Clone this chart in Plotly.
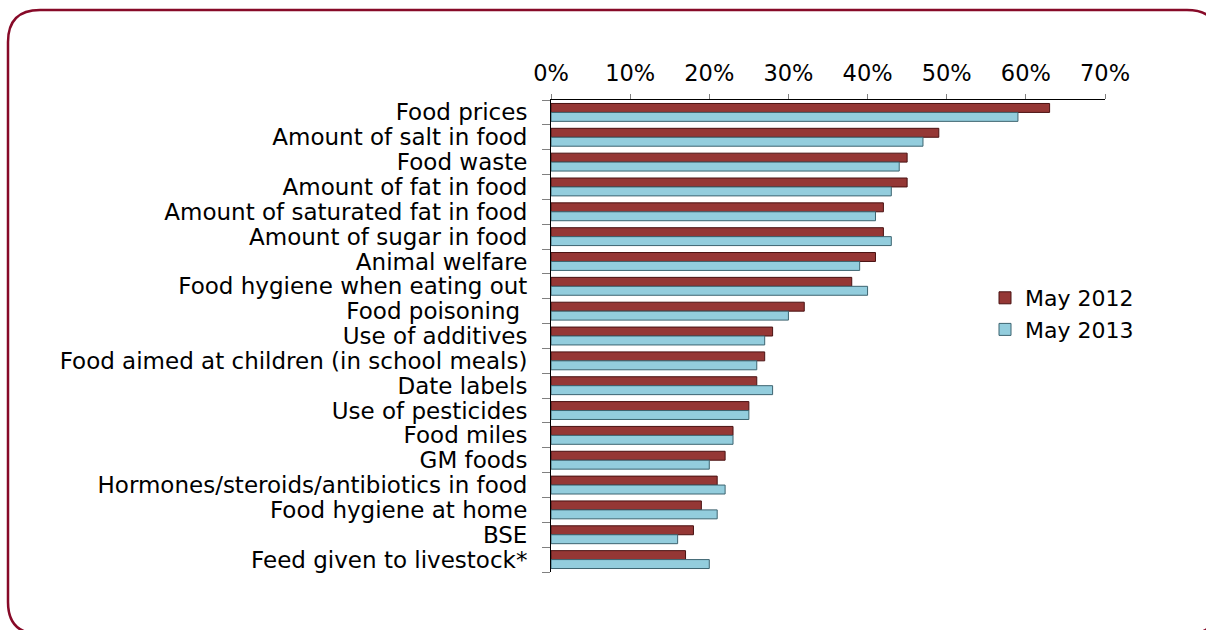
import plotly.graph_objects as go

categories = [
    "Food prices", "Amount of salt in food", "Food waste", "Amount of fat in food",
    "Amount of saturated fat in food", "Amount of sugar in food", "Animal welfare",
    "Food hygiene when eating out", "Food poisoning ", "Use of additives",
    "Food aimed at children (in school meals)", "Date labels", "Use of pesticides",
    "Food miles", "GM foods", "Hormones/steroids/antibiotics in food",
    "Food hygiene at home", "BSE", "Feed given to livestock*",
]
may_2012 = [63, 49, 45, 45, 42, 42, 41, 38, 32, 28, 27, 26, 25, 23, 22, 21, 19, 18, 17]
may_2013 = [59, 47, 44, 43, 41, 43, 39, 40, 30, 27, 26, 28, 25, 23, 20, 22, 21, 16, 20]
x_ticks = [0, 10, 20, 30, 40, 50, 60, 70]
x_tick_labels = ["0%", "10%", "20%", "30%", "40%", "50%", "60%", "70%"]

W, H = 1206, 630
L, R, T, B = 551, 1105, 100, 572
FONT = "DejaVu Sans"
FS = 23

fig = go.Figure()
fig.add_trace(go.Bar(
    y=categories, x=may_2012, orientation="h", name="May 2012",
    marker=dict(color="#953735", line=dict(color="#4a1212", width=1)),
))
fig.add_trace(go.Bar(
    y=categories, x=may_2013, orientation="h", name="May 2013",
    marker=dict(color="#93CDDD", line=dict(color="#3d6470", width=1)),
))

def px(x):
    return (x - L) / (R - L)

def py(y):
    return (B - y) / (B - T)

# rounded frame
x0, x1, y0, y1, r = 8, 1219, 10, 634, 32
pts = [
    ("M", x0 + r, y0), ("L", x1 - r, y0), ("Q", x1, y0, x1, y0 + r),
    ("L", x1, y1 - r), ("Q", x1, y1, x1 - r, y1), ("L", x0 + r, y1),
    ("Q", x0, y1, x0, y1 - r), ("L", x0, y0 + r), ("Q", x0, y0, x0 + r, y0),
]
path = ""
for p in pts:
    if p[0] == "Q":
        path += f"Q{px(p[1]):.5f},{py(p[2]):.5f} {px(p[3]):.5f},{py(p[4]):.5f} "
    else:
        path += f"{p[0]}{px(p[1]):.5f},{py(p[2]):.5f} "
path += "Z"

fig.add_shape(type="path", path=path, xref="paper", yref="paper",
              line=dict(color="#870A28", width=2.5), fillcolor="rgba(0,0,0,0)", layer="above")

fig.update_layout(
    width=W, height=H,
    margin=dict(l=L, r=W - R, t=T, b=H - B, pad=0),
    paper_bgcolor="white", plot_bgcolor="white",
    barmode="group", bargap=0.28, bargroupgap=0,
    font=dict(family=FONT, size=FS, color="black"),
    showlegend=True,
    legend=dict(x=px(985), y=py(277), xanchor="left", yanchor="top",
                font=dict(family=FONT, size=22, color="black"),
                bgcolor="rgba(0,0,0,0)", itemwidth=30, tracegroupgap=0),
    xaxis=dict(
        side="top", range=[0, 70], tickvals=x_ticks, ticktext=x_tick_labels,
        showgrid=False, zeroline=False, showline=True, linecolor="black", linewidth=1,
        ticks="outside", ticklen=5, tickcolor="#808080", ticklabelstandoff=4,
        tickfont=dict(family=FONT, size=22.5, color="black"),
    ),
    yaxis=dict(
        autorange="reversed", type="category",
        tickmode="array", tickvals=categories, ticktext=categories,
        showgrid=False, zeroline=False, showline=True, linecolor="black", linewidth=1,
        ticks="outside", ticklen=8, tickcolor="#808080", tickson="boundaries",
        ticklabelstandoff=18,
        tickfont=dict(family=FONT, size=FS, color="black"),
    ),
)

fig.write_html("out.html", config={"displayModeBar": False},
               post_script="document.body.style.margin='0';")
